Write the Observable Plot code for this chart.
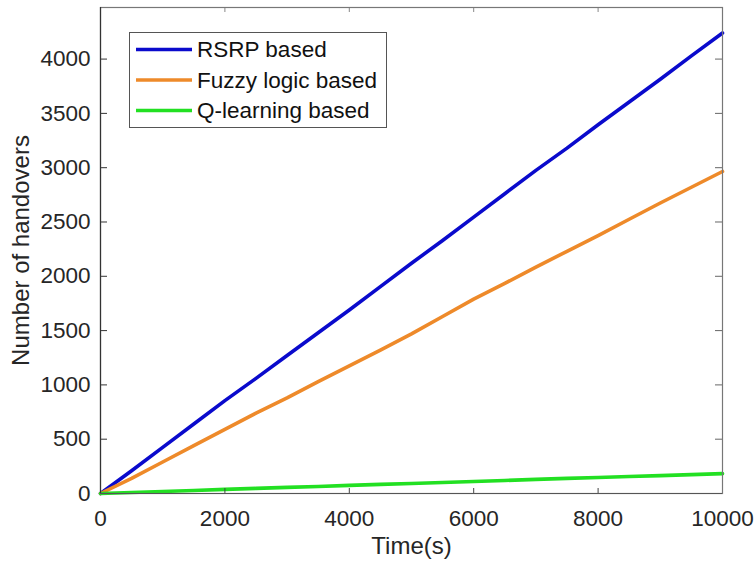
<!DOCTYPE html>
<html>
<head>
<meta charset="utf-8">
<script src="https://cdn.jsdelivr.net/npm/d3@7"></script>
<script src="https://cdn.jsdelivr.net/npm/@observablehq/plot@0.6"></script>
<style>
  html, body { margin: 0; padding: 0; background: #fff; }
  svg { display: block; }
</style>
</head>
<body>
<div id="chart"></div>
<script>
const times  = [0,500,1000,1500,2000,2500,3000,3500,4000,4500,5000,5500,6000,6500,7000,7500,8000,8500,9000,9500,10000];
const rsrp   = [0,210,425,640,855,1060,1270,1480,1690,1905,2120,2330,2545,2760,2975,3180,3395,3605,3815,4030,4240];
const fuzzy  = [0,140,290,440,590,740,880,1030,1175,1320,1470,1630,1790,1935,2085,2230,2375,2525,2675,2820,2965];
const qlearn = [0,9,19,28,38,47,56,65,75,84,92,101,110,120,130,139,148,157,165,174,183];
const seriesNames = ["RSRP based", "Fuzzy logic based", "Q-learning based"];
const seriesColors = ["#0a0acc", "#ee8a2a", "#22e022"];
const xTicks = [0,2000,4000,6000,8000,10000];
const yTicks = [0,500,1000,1500,2000,2500,3000,3500,4000];

const seriesValues = [rsrp, fuzzy, qlearn];
const data = [];
seriesNames.forEach((name, i) => {
  times.forEach((t, j) => data.push({series: name, time: t, value: seriesValues[i][j]}));
});

const font = "'Liberation Sans', Arial, Helvetica, sans-serif";
const W = 756, H = 567, mL = 100, mR = 34, mT = 7, mB = 74;
const frameW = W - mL - mR, frameH = H - mT - mB;
const fmt = d3.format("d");

const plot = Plot.plot({
  width: W,
  height: H,
  marginLeft: mL,
  marginRight: mR,
  marginTop: mT,
  marginBottom: mB,
  style: {fontFamily: font, color: "#262626", background: "#fff"},
  x: {domain: [0, 10000]},
  y: {domain: [0, 4475]},
  color: {domain: seriesNames, range: seriesColors},
  marks: [
    Plot.line(data, {x: "time", y: "value", z: "series", stroke: "series", strokeWidth: 3.6}),
    // inward ticks (MATLAB style)
    Plot.ruleY(yTicks, {stroke: "#333", insetRight: frameW - 7}),
    Plot.ruleY(yTicks, {stroke: "#666", insetLeft: frameW - 7}),
    Plot.ruleX(xTicks, {stroke: "#444", insetTop: frameH - 5}),
    Plot.ruleX(xTicks, {stroke: "#888", insetBottom: frameH - 5}),
    Plot.frame({stroke: "#777", strokeWidth: 1.2}),
    Plot.ruleX([0], {stroke: "#333", strokeWidth: 1.2}),
    Plot.ruleY([0], {stroke: "#555", strokeWidth: 1.2}),
    Plot.axisY({ticks: yTicks, tickSize: 0, tickPadding: 10, tickFormat: fmt, fontSize: 22.5, label: null, color: "#262626"}),
    Plot.axisX({ticks: xTicks, tickSize: 0, tickPadding: 17, tickFormat: fmt, fontSize: 22.5, label: null, color: "#262626"}),
    Plot.text(["Time(s)"], {frameAnchor: "bottom", dy: 60, fontSize: 24, fill: "#262626"}),
    Plot.text(["Number of handovers"], {frameAnchor: "left", textAnchor: "middle", dx: -79, rotate: -90, fontSize: 24, fill: "#262626"})
  ]
});

document.getElementById("chart").appendChild(plot);

// Legend (MATLAB-style box in upper left)
const svg = d3.select(plot);
const lg = svg.append("g").attr("font-family", font).attr("font-size", 22.5)
  .attr("fill", "#111").attr("text-anchor", "start");
lg.append("rect").attr("x", 129.5).attr("y", 32.5).attr("width", 257).attr("height", 95)
  .attr("fill", "#fff").attr("stroke", "#555").attr("stroke-width", 1);
const rowY = [49.5, 80, 110.5];
seriesNames.forEach((name, i) => {
  lg.append("line").attr("x1", 136).attr("x2", 192).attr("y1", rowY[i]).attr("y2", rowY[i])
    .attr("stroke", seriesColors[i]).attr("stroke-width", 3.6);
  lg.append("text").attr("x", 197).attr("y", rowY[i]).attr("dy", "0.35em").attr("text-anchor", "start").text(name);
});
</script>
</body>
</html>
